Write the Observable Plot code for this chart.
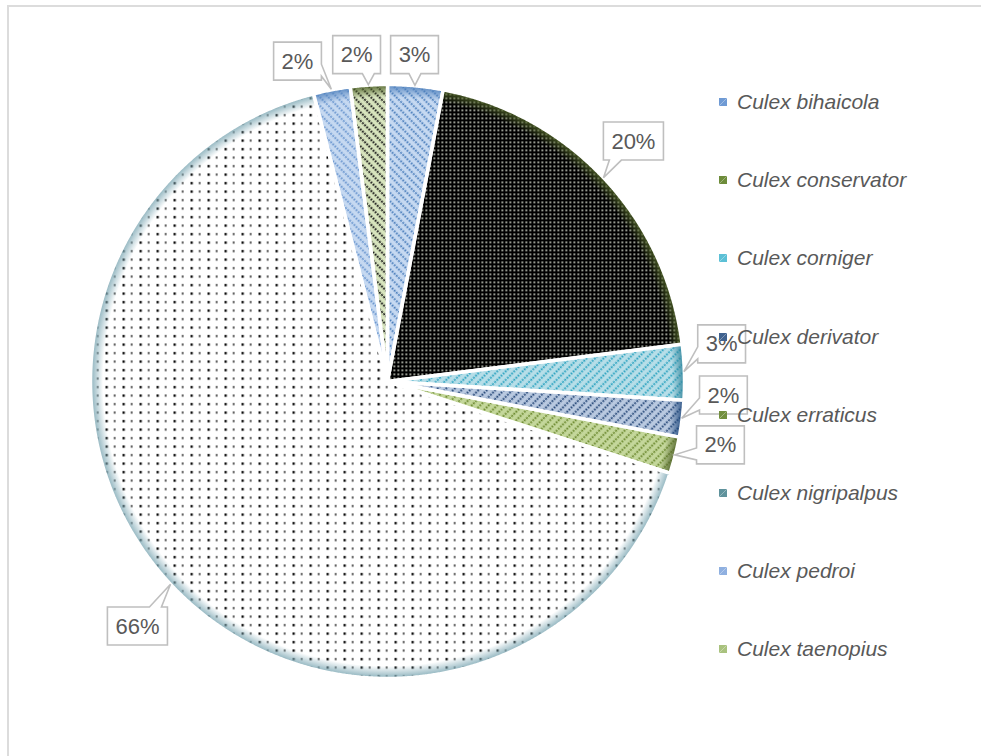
<!DOCTYPE html>
<html>
<head>
<meta charset="utf-8">
<script src="https://cdn.jsdelivr.net/npm/d3@7"></script>
<script src="https://cdn.jsdelivr.net/npm/@observablehq/plot@0.6"></script>
<style>
  body { margin: 0; background: #fff; }
  #chart { position: relative; width: 981px; height: 756px; overflow: hidden; }
  #chart > svg { position: absolute; left: 0; top: 0; }
  #frame { position: absolute; left: 7px; top: 5px; right: -10px; bottom: -10px;
           border-left: 2px solid #dcdcdc; border-top: 2px solid #dcdcdc; pointer-events: none; }
  #legend { position: absolute; left: 0; top: 0; font-family: "Liberation Sans", Arial, sans-serif;
            font-style: italic; font-size: 21px; color: #595959; }
  #legend .item { position: absolute; left: 719px; height: 24px; display: flex; align-items: center; white-space: nowrap; }
  #legend .item svg { margin-right: 10px; }
</style>
</head>
<body>
<div id="chart"><div id="frame"></div></div>
<script>
// Species share of collected Culex specimens (percent)
const species = [
  "Culex bihaicola", "Culex conservator", "Culex corniger", "Culex derivator",
  "Culex erraticus", "Culex nigripalpus", "Culex pedroi", "Culex taenopius"
];
const percent = [3, 20, 3, 2, 2, 66, 2, 2];

// Fill patterns per species: background, foreground, kind, rim colour, legend swatch colour
const patternBg  = ["#c6d9f1", "#000000", "#b7dee8", "#b9c9e0", "#c4d79b", "#ffffff", "#c6d9f1", "#d7e4bd"];
const patternFg  = ["#4f81bd", "#e6ecdc", "#31a5c2", "#2c4d7c", "#6f8c34", "#000000", "#6d98d0", "#1a1a1a"];
const patternKind = ["down", "grid", "up", "up", "up", "dots", "down", "down"];
const rimColor   = ["#4f81bd", "#4f6228", "#31859c", "#1f497d", "#4f6228", "#7fa9b5", "#4f81bd", "#4f6228"];
const swatchColor = ["#6f9ad4", "#6d8c3a", "#5cc0d6", "#40628f", "#728f3e", "#5f929c", "#8fb0e0", "#a9c27e"];

// Label placement (in pie radii, relative to the centre)
const labelOffset = [
  [0.091, -1.099], [0.828, -0.808], [1.125, -0.125], [1.131, 0.047],
  [1.121, 0.215], [-0.842, 0.825], [-0.303, -1.077], [-0.104, -1.099]
];

const W = 981, H = 756;
const CX = 387, CY = 381, R = 297;

const arcs = d3.pie().sort(null).value(d => d)(percent);

// Outline of each wedge in unit coordinates (angle measured clockwise from 12 o'clock)
const wedges = arcs.map((a, i) => {
  const pts = [{x: 0, y: 0, name: species[i]}];
  const n = Math.max(4, Math.ceil((a.endAngle - a.startAngle) / 0.004));
  for (let k = 0; k <= n; k++) {
    const t = a.startAngle + (a.endAngle - a.startAngle) * k / n;
    pts.push({x: Math.sin(t), y: -Math.cos(t), name: species[i]});
  }
  pts.push({x: 0, y: 0, name: species[i]});
  return pts;
});

const labelData = arcs.map((a, i) => {
  const mid = (a.startAngle + a.endAngle) / 2;
  return {
    name: species[i],
    label: `${percent[i]}%`,
    lx: labelOffset[i][0], ly: labelOffset[i][1],
    tx: Math.sin(mid), ty: -Math.cos(mid)
  };
});

const plot = Plot.plot({
  width: W, height: H,
  margin: 0,
  style: {background: "transparent", fontFamily: "Liberation Sans, Arial, sans-serif"},
  x: {domain: [-CX / R, (W - CX) / R], range: [0, W], axis: null},
  y: {domain: [-CY / R, (H - CY) / R], range: [0, H], axis: null},
  marks: [
    ...wedges.map((w, i) => Plot.line(w, {x: "x", y: "y", curve: "linear", stroke: "none", fill: `url(#pat${i})`})),
    ...wedges.map((w, i) => Plot.line(w, {x: "x", y: "y", curve: "linear", stroke: "#ffffff", strokeWidth: 3.5,
                                            strokeLinejoin: "round", fill: `url(#rim${i})`})),
    Plot.text(labelData, {x: "lx", y: "ly", text: "label", fontSize: 22, fill: "#595959", textAnchor: "middle"})
  ]
});

const chart = document.getElementById("chart");
chart.insertBefore(plot, chart.firstChild);

const svg = d3.select(plot);
const sx = plot.scale("x"), sy = plot.scale("y");
const px = sx.apply(0), py = sy.apply(0), pr = sx.apply(1) - sx.apply(0);

// Pattern and rim-gradient definitions
const defs = svg.insert("defs", ":first-child");
patternKind.forEach((kind, i) => {
  if (kind === "up" || kind === "down") {
    const p = defs.append("pattern").attr("id", `pat${i}`).attr("patternUnits", "userSpaceOnUse")
      .attr("width", 6).attr("height", 6)
      .attr("patternTransform", `rotate(${kind === "up" ? 45 : -45})`);
    p.append("rect").attr("width", 6).attr("height", 6).attr("fill", patternBg[i]);
    p.append("line").attr("x1", 1.5).attr("x2", 1.5).attr("y1", 0).attr("y2", 6)
      .attr("stroke", patternFg[i]).attr("stroke-width", 1.8).attr("stroke-dasharray", "2 1");
  } else if (kind === "grid") {
    const p = defs.append("pattern").attr("id", `pat${i}`).attr("patternUnits", "userSpaceOnUse")
      .attr("width", 4).attr("height", 4);
    p.append("rect").attr("width", 4).attr("height", 4).attr("fill", patternBg[i]);
    p.append("rect").attr("x", 1).attr("y", 1).attr("width", 1.6).attr("height", 1.6).attr("fill", patternFg[i]);
  } else {
    const p = defs.append("pattern").attr("id", `pat${i}`).attr("patternUnits", "userSpaceOnUse")
      .attr("width", 17).attr("height", 8.5);
    p.append("rect").attr("width", 17).attr("height", 8.5).attr("fill", patternBg[i]);
    p.append("rect").attr("x", 3).attr("y", 3).attr("width", 2.3).attr("height", 2.3).attr("fill", patternFg[i]);
    p.append("rect").attr("x", 11.5).attr("y", 3).attr("width", 1.5).attr("height", 2.2).attr("fill", patternFg[i]).attr("opacity", 0.85);
  }
  const g = defs.append("radialGradient").attr("id", `rim${i}`).attr("gradientUnits", "userSpaceOnUse")
    .attr("cx", px).attr("cy", py).attr("r", pr);
  g.append("stop").attr("offset", 0.958).attr("stop-color", rimColor[i]).attr("stop-opacity", 0);
  g.append("stop").attr("offset", 0.99).attr("stop-color", rimColor[i]).attr("stop-opacity", 0.7);
  g.append("stop").attr("offset", 1).attr("stop-color", rimColor[i]).attr("stop-opacity", 0.85);
});

// Callout boxes behind the percentage labels
const textNodes = svg.selectAll('g[aria-label="text"] text').nodes();
const textGroup = textNodes[0].parentNode;
const boxes = d3.select(textGroup.parentNode).insert("g", () => textGroup);
const svgRect = plot.getBoundingClientRect();
const clamp = (v, a, c) => Math.max(a, Math.min(c, v));
textNodes.forEach((node, k) => {
  const r = node.getBoundingClientRect();
  const bx0 = r.left - svgRect.left, by0 = r.top - svgRect.top;
  const x0 = bx0 - 8, x1 = bx0 + r.width + 8;
  const cyb = by0 + r.height / 2;
  const y0 = cyb - 19, y1 = cyb + 19;
  const L = labelData[k];
  const tx = sx.apply(L.tx), ty = sy.apply(L.ty);
  const dxo = tx < x0 ? x0 - tx : tx > x1 ? tx - x1 : 0;
  const dyo = ty < y0 ? y0 - ty : ty > y1 ? ty - y1 : 0;
  let path;
  if (dyo >= dxo) {
    const bx = clamp(tx, x0 + 12, x1 - 12);
    if (ty > y1) path = `M${x0},${y0}H${x1}V${y1}H${bx + 6}L${tx},${ty}L${bx - 6},${y1}H${x0}Z`;
    else path = `M${x0},${y1}H${x1}V${y0}H${bx + 6}L${tx},${ty}L${bx - 6},${y0}H${x0}Z`;
  } else {
    const by = clamp(ty, y0 + 10, y1 - 10);
    if (tx < x0) path = `M${x1},${y0}V${y1}H${x0}V${by + 6}L${tx},${ty}L${x0},${by - 6}V${y0}Z`;
    else path = `M${x0},${y0}H${x1}V${by - 6}L${tx},${ty}L${x1},${by + 6}V${y1}H${x0}Z`;
  }
  boxes.append("path").attr("d", path).attr("fill", "#ffffff")
    .attr("stroke", "#bfbfbf").attr("stroke-width", 1.6).attr("stroke-linejoin", "miter");
});

// Legend on the right
const legend = d3.select("#chart").append("div").attr("id", "legend");
species.forEach((name, i) => {
  const item = legend.append("div").attr("class", "item").style("top", `${102 + i * 78.2 - 12}px`);
  const sw = item.append("svg").attr("width", 8).attr("height", 8);
  sw.append("rect").attr("width", 8).attr("height", 8).attr("fill", swatchColor[i]);
  sw.append("line").attr("x1", 0).attr("y1", 8).attr("x2", 8).attr("y2", 0)
    .attr("stroke", "#ffffff").attr("stroke-opacity", 0.35).attr("stroke-width", 1);
  item.append("span").text(name);
});
</script>
</body>
</html>
